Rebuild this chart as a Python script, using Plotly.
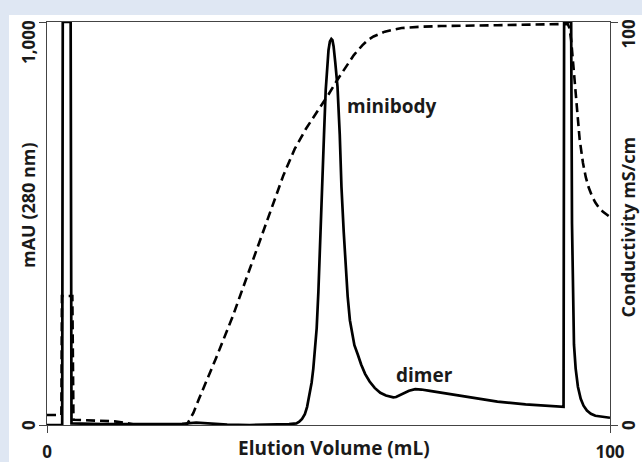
import plotly.graph_objects as go

# UV absorbance (mAU, 280 nm)
uv_volume = [0, 2.7, 2.8, 4.2, 4.35, 6, 10, 15, 20, 24, 26.5, 29, 32, 36, 40, 43,
             44.3, 44.8, 45.3, 45.8, 46.2, 46.7, 47.0, 47.3, 47.6, 47.9, 48.2, 48.5, 48.7, 48.9,
             49.2, 49.5, 49.75, 50.0, 50.25, 50.5, 50.7, 50.9, 51.2, 51.6, 52.0, 52.3, 52.7,
             53.0, 53.4, 53.8, 54.2, 54.6, 55.2, 55.8, 56.5, 57.3, 58.2, 59.2, 60.2, 61.0,
             61.5, 62.0, 62.7, 63.5, 64.3, 65.4, 66.5, 68, 70, 72.5, 75, 80, 85, 91.75,
             91.85, 93.1, 93.25, 93.4, 93.6, 93.9, 94.3, 94.8, 95.3, 95.9, 96.6, 97.4, 98.6, 100]
uv_mau = [0, 0, 1000, 1000, 4, 3, 2, 2, 2, 3, 6, 3, 1, 0, 1, 2,
          4, 8, 15, 27, 45, 79, 105, 140, 185, 240, 330, 434, 515, 600,
          720, 830, 890, 930, 952, 958, 955, 940, 900, 839, 720, 591, 480,
          400, 320, 260, 225, 198, 175, 150, 127, 108, 92, 80, 73, 69.5,
          68.5, 69.5, 74, 80, 85, 89, 88, 84.5, 80, 74, 68, 58, 51, 45,
          1000, 1000, 500, 300, 200, 140, 95, 65, 48, 36, 28, 23, 20, 18]

# Conductivity (mS/cm)
cond_volume = [0, 2.55, 2.65, 4.5, 4.7, 8, 12, 14, 15.8, 18, 21, 24, 24.8, 26, 27, 30, 33, 36,
               37.2, 40, 42, 44, 46, 48, 50, 51.5, 53, 54.5, 56, 57, 58, 59, 60, 61.5, 63, 66,
               70, 80, 92.5, 92.8, 93.1, 93.5, 94.0, 94.6, 95.2, 95.7, 96.2, 96.8, 97.4, 98.0,
               98.7, 99.4, 100]
cond_ms = [2.5, 2.5, 32, 32, 1.3, 1.2, 0.9, 0.5, 0, -0.6, -0.7, -0.5, 0, 3, 6.5, 16.5, 27, 38.5,
           43.4, 54, 62, 68.5, 73.5, 77.8, 82, 85.5, 88.8, 91.8, 94.2, 95.5, 96.4, 97.1, 97.6,
           98.1, 98.5, 98.8, 99, 99.2, 99.5, 98.5, 95.5, 89, 80, 71, 65, 61.5, 59, 56.8,
           55.2, 54, 53, 52.2, 51.6]

x_ticks = [0, 100]
left_ticks = [0, 1000]
left_tick_text = ["0", "1,000"]
right_ticks = [0, 100]
right_tick_text = ["0", "100"]

FONT = "Open Sans"
TXT = "#1a1a1a"
AX = "#444444"

fig = go.Figure()
fig.add_trace(go.Scatter(x=uv_volume, y=uv_mau, mode="lines", yaxis="y",
                         line=dict(color="black", width=2.7),
                         showlegend=False, hoverinfo="skip"))
fig.add_trace(go.Scatter(x=cond_volume, y=cond_ms, mode="lines", yaxis="y2",
                         line=dict(color="black", width=2.6, dash="9px,5px"),
                         showlegend=False, hoverinfo="skip"))

tick_font = dict(family=FONT, size=17, color=TXT, weight="bold")
title_font = dict(family=FONT, size=18, color=TXT, weight="bold")
label_font = dict(family=FONT, size=19, color=TXT, weight="bold")

ann = []
# y tick labels (rotated)
ann.append(dict(text=left_tick_text[1], x=-0.0337, xref="paper", y=left_ticks[1], yref="y",
                yanchor="top", xanchor="center", textangle=-90, showarrow=False, font=tick_font,
                yshift=4))
ann.append(dict(text=left_tick_text[0], x=-0.0337, xref="paper", y=left_ticks[0], yref="y",
                yanchor="middle", xanchor="center", textangle=-90, showarrow=False, font=tick_font))
ann.append(dict(text=right_tick_text[1], x=1.032, xref="paper", y=right_ticks[1], yref="y2",
                yanchor="top", xanchor="center", textangle=-90, showarrow=False, font=tick_font,
                yshift=4))
ann.append(dict(text=right_tick_text[0], x=1.032, xref="paper", y=right_ticks[0], yref="y2",
                yanchor="middle", xanchor="center", textangle=-90, showarrow=False, font=tick_font))
# axis titles
ann.append(dict(text="mAU (280 nm)", x=-0.0337, xref="paper", y=0.546, yref="paper",
                textangle=-90, showarrow=False, xanchor="center", yanchor="middle", font=title_font))
ann.append(dict(text="Conductivity mS/cm", x=1.032, xref="paper", y=0.49, yref="paper",
                textangle=-90, showarrow=False, xanchor="center", yanchor="middle", font=title_font))
ann.append(dict(text="Elution Volume (mL)", x=0.51, xref="paper", y=-0.057, yref="paper",
                showarrow=False, xanchor="center", yanchor="middle", font=label_font))
# peak labels
ann.append(dict(text="minibody", x=61.3, xref="x", y=792, yref="y", showarrow=False,
                xanchor="center", yanchor="middle", font=label_font))
ann.append(dict(text="dimer", x=67.0, xref="x", y=125, yref="y", showarrow=False,
                xanchor="center", yanchor="middle", font=label_font))

fig.update_layout(
    width=642, height=462,
    margin=dict(l=47, r=32, t=22, b=37, pad=0),
    paper_bgcolor="#dfe7f3",
    plot_bgcolor="white",
    font=dict(family=FONT, size=17, color=TXT, weight="bold"),
    annotations=ann,
    shapes=[dict(type="rect", xref="paper", yref="paper",
                 x0=-0.0675, x1=1.06, y0=-0.1, y1=1.0174,
                 fillcolor="white", line=dict(width=0), layer="below")],
    xaxis=dict(range=[0, 100], tickvals=x_ticks, ticktext=[str(v) for v in x_ticks],
               ticks="outside", ticklen=7, tickwidth=1.3, tickcolor=AX,
               showline=True, linecolor=AX, linewidth=1.3, mirror=True,
               showgrid=False, zeroline=False, ticklabelstandoff=4, automargin=False,
               tickfont=tick_font),
    yaxis=dict(range=[0, 1000], tickvals=left_ticks, showticklabels=False,
               ticks="outside", ticklen=7, tickwidth=1.3, tickcolor=AX,
               showline=True, linecolor=AX, linewidth=1.3, automargin=False,
               showgrid=False, zeroline=False),
    yaxis2=dict(range=[0, 100], tickvals=right_ticks, showticklabels=False,
                overlaying="y", side="right",
                ticks="outside", ticklen=7, tickwidth=1.3, tickcolor=AX,
                showline=True, linecolor=AX, linewidth=1.3, automargin=False,
                showgrid=False, zeroline=False),
)

fig.write_html("out.html", config={"displayModeBar": False},
               post_script="document.body.style.margin='0';document.body.style.overflow='hidden';"
                           "document.body.style.background='#dfe7f3';")
